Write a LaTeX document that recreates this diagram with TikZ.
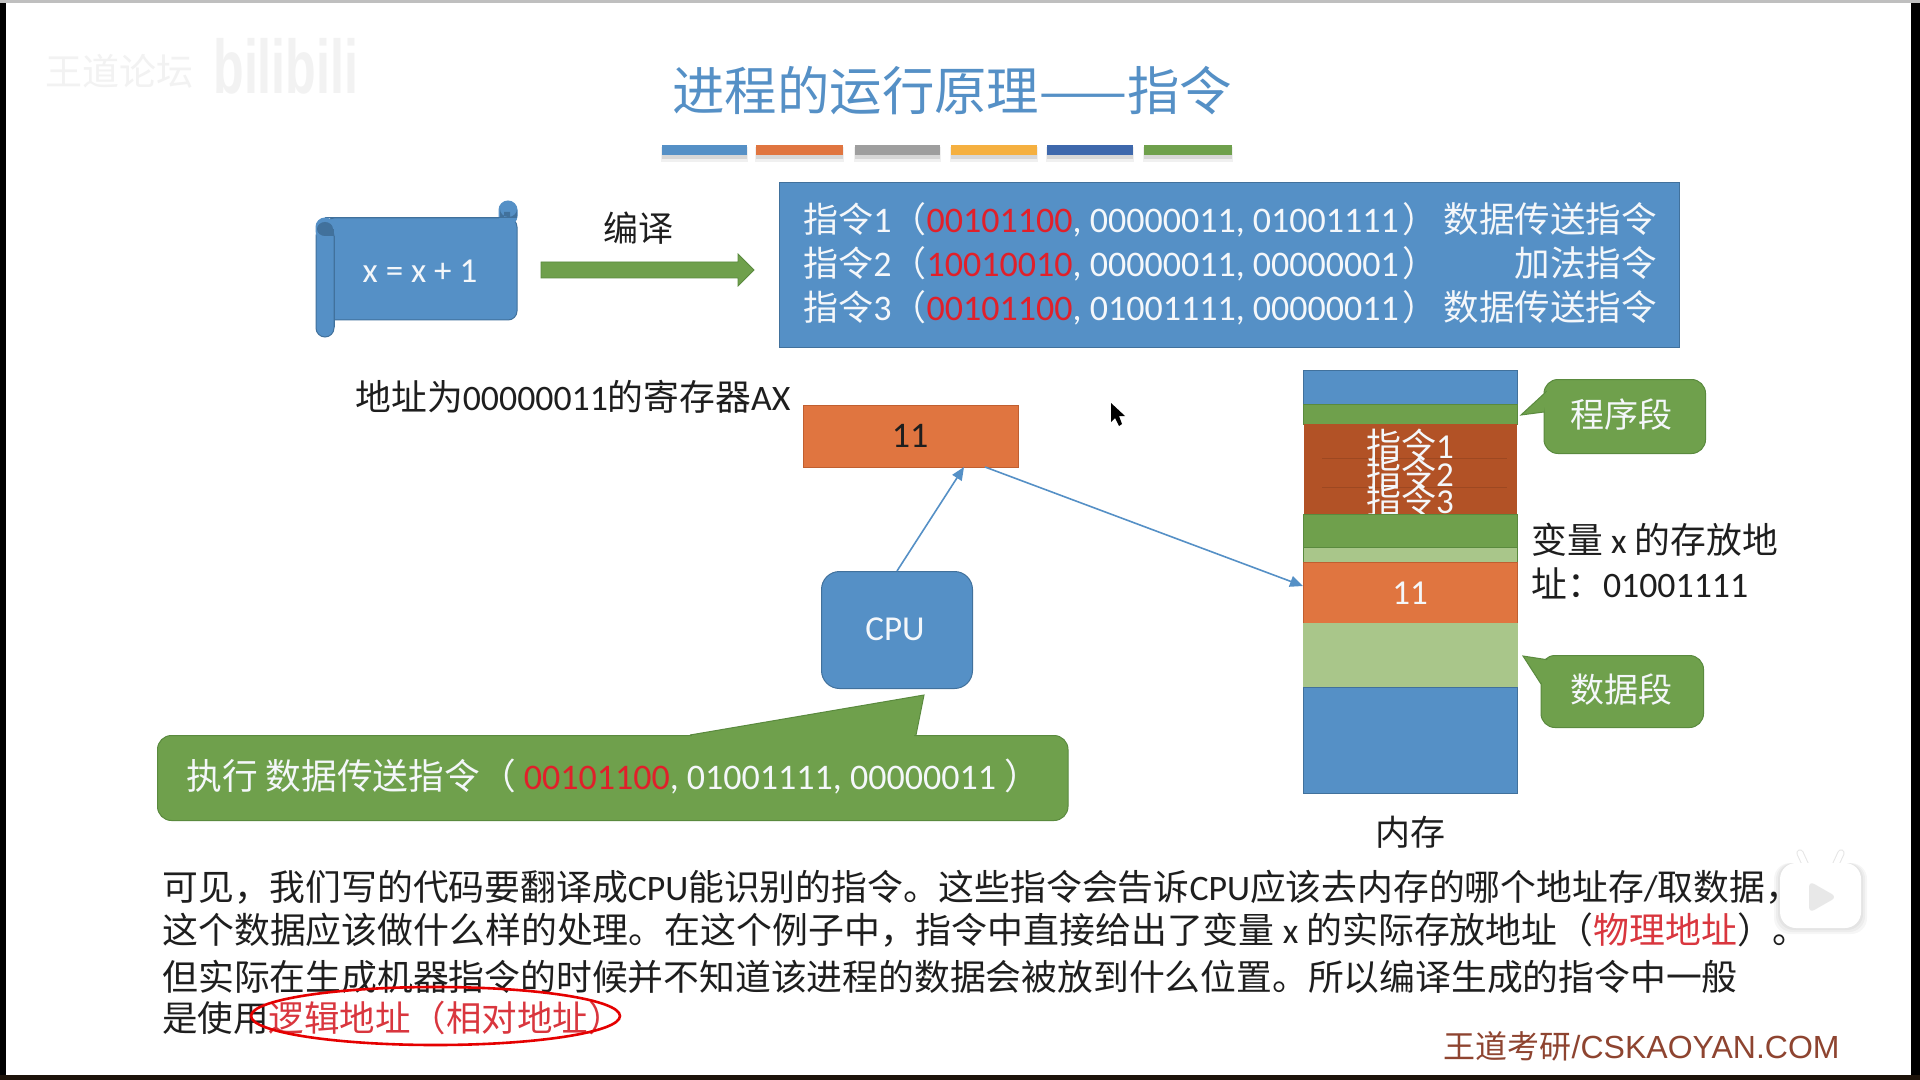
\documentclass[tikz,border=0pt]{standalone}
\usepackage{fontspec}
\usetikzlibrary{arrows.meta}
\setmainfont{Carlito}
\newfontfamily\cjk{Noto Sans CJK SC}
\newfontfamily\arl{Liberation Sans}
\newcommand{\C}[1]{{\cjk #1}}
\newcommand{\Cs}[2]{{\fontsize{#1pt}{#1pt}\selectfont\cjk #2}}
\definecolor{pblue}{HTML}{5590C6}
\definecolor{pblueD}{HTML}{41719C}
\definecolor{pgreen}{HTML}{6FA04C}
\definecolor{pgreenD}{HTML}{5A8A3E}
\definecolor{plight}{HTML}{A9C68A}
\definecolor{porange}{HTML}{E07540}
\definecolor{porangeD}{HTML}{C05F30}
\definecolor{pbrick}{HTML}{B25226}
\definecolor{pred}{HTML}{E0202A}
\definecolor{psoft}{HTML}{D9363E}
\definecolor{pink}{HTML}{1E1E1E}
\definecolor{plogo}{HTML}{8E4430}
\definecolor{pwhite}{HTML}{F4F7FA}
\definecolor{pghost}{HTML}{F2F2F2}
\definecolor{pyellow}{HTML}{F5B040}
\definecolor{pnavy}{HTML}{3E68AC}
\tikzset{
  x=0.5pt,y=-0.5pt,
  fs/.style={font=\fontsize{#1pt}{#1pt}\selectfont},
  txt/.style={inner sep=0pt,anchor=base west,fs=17.9,text=pink},
  wtxt/.style={txt,text=pwhite},
  ctr/.style={inner sep=0pt,anchor=base,fs=17.75},
  conn/.style={draw=pblue,line width=0.8pt,-{Triangle[length=6.5pt,width=5.5pt]}},
  band/.style={line width=0.5pt},
  callbox/.style={fill=pgreen,draw=pgreenD,line width=0.5pt,rounded corners=7pt,inner sep=0pt,anchor=north west}
}
\begin{document}
\begin{tikzpicture}
\useasboundingbox (0,0) rectangle (1920,1080);
\fill[white] (0,0) rectangle (1920,1080);
% frame of the video
\fill[black] (0,0) rectangle (6,1080);
\fill[black] (1911,0) rectangle (1920,1080);
\fill[black!85!brown] (0,1075) rectangle (1920,1080);
\fill[black!25] (0,0) rectangle (1920,3);
% watermark
\node[inner sep=0pt,anchor=base west,fs=18.5,text=pghost] (wm1) at (45,86) {\C{王道论坛}};
\node[inner sep=0pt,anchor=base west,text=pghost,font=\arl\bfseries\fontsize{38pt}{38pt}\selectfont] (wm2) at (213,94) {\scalebox{0.66}[1]{bilibili}};
% title
\node[inner sep=0pt,anchor=base west,fs=26.2,text=pblue] (title) at (672,111) {\C{进程的运行原理——指令}};
% colour bars
\foreach \a/\b/\c in {662/747/pblue,756/843/porange,855/940/black!38,951/1037/pyellow,1047/1133/pnavy,1144/1232/pgreen}{
  \fill[black,opacity=0.06] (\a-1,147) rectangle (\b+1,162);
  \fill[black,opacity=0.10] (\a,148) rectangle (\b,159);
  \fill[\c] (\a,145) rectangle (\b,155);
}
% scroll
\draw[fill=pblue,draw=pblueD,line width=0.5pt,rounded corners=4.5pt] (325,218) -- (517,218) -- (517,320) -- (325,320) -- cycle;
\draw[fill=pblue,draw=pblue,line width=0.5pt,rounded corners=4.5pt] (499,225) -- (499,201) -- (517,201) -- (517,225) -- cycle;
\fill[pblueD] (500,218) -- (500,209) arc[start angle=180,end angle=0,x radius=8.5,y radius=8] -- (517,218) -- (510,218) -- (510,212) -- (504,212) -- (504,218) -- cycle;
\fill[pblue] (499,218) rectangle (506,226);
\draw[pblueD,line width=0.5pt] (325,218) -- (512,218);
\draw[fill=pblue,draw=pblueD,line width=0.5pt,rounded corners=4.5pt] (316,227) rectangle (334,337);
\draw[fill=pblue,draw=pblue,line width=0.5pt,rounded corners=4.5pt] (316,218) -- (334,218) -- (334,240) -- (316,240) -- cycle;
\fill[pblueD] (325,229) ellipse[x radius=8,y radius=7];
\fill[pblueD] (325,229) rectangle (334,236);
\draw[pblueD,line width=0.5pt] (334,236) -- (334,327);
\node[wtxt,anchor=base,fs=17.5] (code) at (420,283) {x = x + 1};
% compile arrow
\node[txt,anchor=base,fs=17.5] (compile) at (638,242) {\C{编译}};
\draw[fill=pgreen,draw=pgreenD,line width=0.4pt] (541,262) -- (738,262) -- (738,254) -- (754,270) -- (738,286) -- (738,278) -- (541,278) -- cycle;
% instruction box
\node[draw=pblueD,fill=pblue,line width=0.5pt,inner sep=0pt,minimum width=450pt,minimum height=82.5pt,anchor=north west] (box) at (779,182) {};
\node[wtxt,fs=18] (i1) at (803,233) {\Cs{17.5}{指令}1\Cs{17.5}{（}\textcolor{pred}{00101100}, 00000011, 01001111\kern2pt\Cs{17.5}{）}};
\node[wtxt,fs=18] (i2) at (803,277) {\Cs{17.5}{指令}2\Cs{17.5}{（}\textcolor{pred}{10010010}, 00000011, 00000001\kern2pt\Cs{17.5}{）}};
\node[wtxt,fs=18] (i3) at (803,321) {\Cs{17.5}{指令}3\Cs{17.5}{（}\textcolor{pred}{00101100}, 01001111, 00000011\kern2pt\Cs{17.5}{）}};
\node[wtxt,anchor=base east,fs=17.75] (k1) at (1657,233) {\C{数据传送指令}};
\node[wtxt,anchor=base east,fs=17.75] (k2) at (1657,277) {\C{加法指令}};
\node[wtxt,anchor=base east,fs=17.75] (k3) at (1657,321) {\C{数据传送指令}};
% register
\node[txt] (reglabel) at (355,410) {\C{地址为}00000011\C{的寄存器}AX};
\node[draw=porangeD,fill=porange,line width=0.5pt,inner sep=0pt,minimum width=107.7pt,minimum height=31pt,anchor=north west] (reg) at (802.5,404.5) {};
\node[ctr,text=pink,fs=18] (regval) at (910,447.5) {11};
% cpu
\node[draw=pblueD,fill=pblue,line width=0.5pt,inner sep=0pt,minimum width=75.5pt,minimum height=58.5pt,rounded corners=9pt,anchor=north west] (cpu) at (821,571) {};
\node[ctr,text=pwhite,fs=17.5] (cpulabel) at (895,640) {CPU};
\coordinate (regin) at (964,467);
\coordinate (regout) at (985,467);
\coordinate (memin) at (1303,586);
\draw[conn] (cpu.north) -- (regin);
\draw[conn] (regout) -- (memin);
% memory
\draw[band,fill=pblue,draw=pblueD] (1303,370) rectangle (1517.5,404);
\draw[band,fill=pgreen,draw=pgreenD] (1303.5,404) rectangle (1517,424);
\fill[pbrick] (1303.5,424) rectangle (1517,514);
\draw[band,draw=pbrick!88!black] (1322,458) -- (1507,458) (1322,487) -- (1507,487);
\begin{scope}
\clip (1303,424) rectangle (1517,514);
\node[ctr,text=pwhite,fs=17.5] (m1) at (1410,458) {\C{指令}1};
\node[ctr,text=pwhite,fs=17.5] (m2) at (1410,486) {\C{指令}2};
\node[ctr,text=pwhite,fs=17.5] (m3) at (1410,513) {\C{指令}3};
\end{scope}
\draw[band,fill=pgreen,draw=pgreenD] (1303.5,514) rectangle (1517,547);
\draw[band,fill=plight,draw=pgreenD] (1303.5,547) rectangle (1517,562);
\draw[band,fill=porange,draw=porangeD] (1303.5,562) rectangle (1517,623);
\draw[band,fill=plight,draw=plight] (1303.5,623.5) rectangle (1517,687);
\draw[band,fill=pblue,draw=pblueD] (1303,687) rectangle (1517.5,793);
\node[ctr,text=pwhite,fs=17.5] (memval) at (1410,604) {11};
\node[txt,anchor=base,fs=17.5] (memlabel) at (1410,845) {\C{内存}};
\node[txt] (var1) at (1531,553) {\C{变量} x \C{的存放地}};
\node[txt] (var2) at (1531,597) {\C{址：}01001111};
% callouts
\node[callbox,minimum width=80.75pt,minimum height=37pt] (seg1) at (1543.5,379) {};
\draw[fill=pgreen,draw=pgreenD,line width=0.5pt] (1547,391) -- (1521,415) -- (1544,412);
\fill[pgreen] (1549,389) -- (1543,396) -- (1545,412) -- (1552,412) -- cycle;
\node[ctr,text=pwhite,fs=17] (seg1t) at (1621.5,427) {\C{程序段}};
\node[callbox,minimum width=81.25pt,minimum height=36pt] (seg2) at (1540.5,655) {};
\draw[fill=pgreen,draw=pgreenD,line width=0.5pt] (1549,660) -- (1523,656) -- (1541,684);
\fill[pgreen] (1549,658) -- (1543,664) -- (1542,684) -- (1552,684) -- cycle;
\node[ctr,text=pwhite,fs=17] (seg2t) at (1621,702) {\C{数据段}};
\node[callbox,minimum width=455.25pt,minimum height=42.5pt] (execbox) at (157,735) {};
\draw[fill=pgreen,draw=pgreenD,line width=0.5pt] (690,735) -- (924,695) -- (916,735);
\fill[pgreen] (692,735) -- (914,735) -- (914,737) -- (692,737) -- cycle;
\node[wtxt,fs=18] (exec) at (186,789) {\Cs{17.85}{执行 数据传送指令（} \textcolor{pred}{00101100}, 01001111, 00000011 \Cs{17.85}{）}};
% paragraph
\node[txt] (p1) at (162,900) {\C{可见，我们写的代码要翻译成}CPU\C{能识别的指令。这些指令会告诉}CPU\C{应该去内存的哪个地址存}/\C{取数据，}};
\node[txt,fs=17.94] (p2) at (162,943) {\C{这个数据应该做什么样的处理。在这个例子中，指令中直接给出了变量} x \C{的实际存放地址（\textcolor{psoft}{物理地址}）。}};
\node[txt] (p3) at (162,990) {\C{但实际在生成机器指令的时候并不知道该进程的数据会被放到什么位置。所以编译生成的指令中一般}};
\node[txt,fs=17.75] (p4) at (162,1031) {\C{是使用\textcolor{psoft}{逻辑地址（相对地址）}}};
\draw[red!90!black,line width=1.3pt] (435.5,1016) ellipse[x radius=184.5,y radius=29];
% site mark
\node[inner sep=0pt,anchor=base east,text=plogo,font=\arl\fontsize{16pt}{16pt}\selectfont] (site) at (1840,1058) {\C{王道考研}/CSKAOYAN.COM};
% play icon
\foreach \e in {6,4,2}{
  \fill[black,opacity=0.035,rounded corners=8pt] (1780-\e,863) rectangle (1861+\e,928+\e);
}
\draw[black!10,line width=3.6pt,line cap=round] (1806,866) -- (1800,853) (1835,866) -- (1841,853);
\draw[white,line width=2.6pt,line cap=round] (1806,866) -- (1800,853) (1835,866) -- (1841,853);
\fill[white,rounded corners=8pt] (1780,863) rectangle (1861,928);
\fill[black!9,rounded corners=3pt] (1809,881) -- (1837,897) -- (1809,913) -- cycle;
% pointer
\fill[black] (1111,403) -- (1111,422) -- (1115,418) -- (1119,426) -- (1122,424) -- (1119,416) -- (1125,416) -- cycle;
\end{tikzpicture}
\end{document}
